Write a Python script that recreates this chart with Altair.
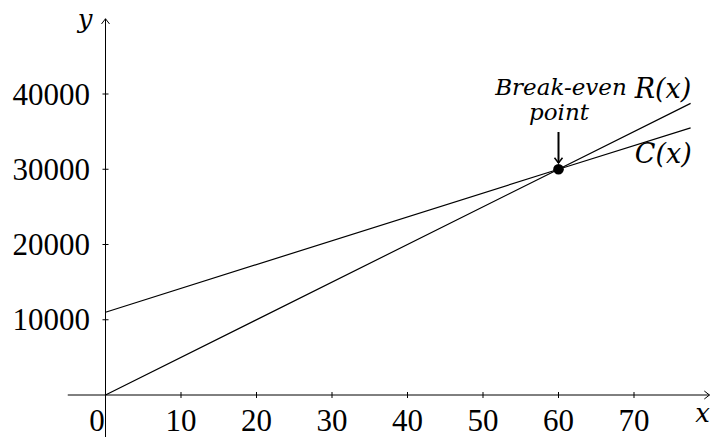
import altair as alt
import pandas as pd

# ---- data ----
x_ticks = [10, 20, 30, 40, 50, 60, 70]
y_ticks = [10000, 20000, 30000, 40000]
line_x = [0, 60, 77.5]
revenue = [0, 30000, 38750]      # R(x)
cost = [11000, 30000, 35500]     # C(x)
break_even_x = [60]
break_even_y = [30000]

X_DOMAIN = [-12.914, 80.199]
Y_DOMAIN = [-5581, 51429]
x_axis_span = [-5, 80]
y_axis_span = [-5581, 50000]

SERIF = "'Liberation Serif', 'Times New Roman', serif"
ITAL = "'DejaVu Serif', 'Liberation Serif', serif"


def X(field="x"):
    return alt.X(f"{field}:Q", scale=alt.Scale(domain=X_DOMAIN, nice=False, zero=False), axis=None)


def Y(field="y"):
    return alt.Y(f"{field}:Q", scale=alt.Scale(domain=Y_DOMAIN, nice=False, zero=False), axis=None)


lines_df = pd.DataFrame(
    {"x": line_x * 2, "y": revenue + cost, "series": ["R"] * len(line_x) + ["C"] * len(line_x)}
)
xt_df = pd.DataFrame({"x": x_ticks, "y": [0] * len(x_ticks), "t": [str(v) for v in x_ticks]})
yt_df = pd.DataFrame({"x": [0] * len(y_ticks), "y": y_ticks, "t": [str(v) for v in y_ticks]})
xax_df = pd.DataFrame({"x": [x_axis_span[0]], "x2": [x_axis_span[1]], "y": [0]})
yax_df = pd.DataFrame({"x": [0], "y": [y_axis_span[0]], "y2": [y_axis_span[1]]})
xarrow_df = pd.DataFrame({"x": [x_axis_span[1]], "y": [0]})
yarrow_df = pd.DataFrame({"x": [0], "y": [y_axis_span[1]]})
be_df = pd.DataFrame({"x": break_even_x, "y": break_even_y})
shaft_df = pd.DataFrame({"x": [60], "y": [34950], "y2": [30830]})
head_df = pd.DataFrame({"x": [60], "y": [30830]})
zero_df = pd.DataFrame({"x": [0], "y": [0], "t": ["0"]})
ann_df = pd.DataFrame({"x": [70.1, 70.1], "y": [39500, 30800], "t": ["R(x)", "C(x)"]})

x_axis = alt.Chart(xax_df).mark_rule(color="black", strokeWidth=1).encode(x=X(), x2="x2:Q", y=Y())
y_axis = alt.Chart(yax_df).mark_rule(color="black", strokeWidth=1).encode(x=X(), y=Y(), y2="y2:Q")
x_arrow = alt.Chart(xarrow_df).mark_point(
    shape="M -1.3 -1 L 0 0 L -1.3 1", size=64, filled=False, color="black", strokeWidth=1, opacity=1
).encode(x=X(), y=Y())
y_arrow = alt.Chart(yarrow_df).mark_point(
    shape="M -1 1.3 L 0 0 L 1 1.3", size=64, filled=False, color="black", strokeWidth=1, opacity=1
).encode(x=X(), y=Y())

x_tickmarks = alt.Chart(xt_df).mark_tick(orient="vertical", size=6, thickness=1, color="black", opacity=1).encode(x=X(), y=Y())
y_tickmarks = alt.Chart(yt_df).mark_tick(orient="horizontal", size=6, thickness=1, color="black", opacity=1).encode(x=X(), y=Y())

x_labels = alt.Chart(xt_df).mark_text(
    font=SERIF, fontSize=31, baseline="alphabetic", align="center", dy=36, color="black"
).encode(x=X(), y=Y(), text="t:N")
y_labels = alt.Chart(yt_df).mark_text(
    font=SERIF, fontSize=31, baseline="alphabetic", align="right", dx=-15.5, dy=10.5, color="black"
).encode(x=X(), y=Y(), text="t:N")
zero_label = alt.Chart(zero_df).mark_text(
    font=SERIF, fontSize=31, baseline="alphabetic", align="center", dx=-8.5, dy=36, color="black"
).encode(x=X(), y=Y(), text="t:N")

x_title = alt.Chart(xarrow_df).mark_text(
    text="x", font=ITAL, fontStyle="italic", fontSize=26, baseline="alphabetic", align="center",
    dx=-7, dy=27, color="black"
).encode(x=X(), y=Y())
y_title = alt.Chart(yarrow_df).mark_text(
    text="y", font=ITAL, fontStyle="italic", fontSize=26, baseline="alphabetic", align="center",
    dx=-20.5, dy=9, color="black"
).encode(x=X(), y=Y())

lines = alt.Chart(lines_df).mark_line(color="black", strokeWidth=1.2).encode(
    x=X(), y=Y(), detail="series:N", order="x:Q"
)
dot = alt.Chart(be_df).mark_circle(size=113, color="black", opacity=1).encode(x=X(), y=Y())

shaft = alt.Chart(shaft_df).mark_rule(color="black", strokeWidth=2).encode(x=X(), y=Y(), y2="y2:Q")
head = alt.Chart(head_df).mark_point(
    shape="M -1 -1.3 L 0 0 L 1 -1.3", size=64, filled=False, color="black", strokeWidth=1.5, opacity=1
).encode(x=X(), y=Y())

be_text1 = alt.Chart(be_df).mark_text(
    text="Break-even", font=ITAL, fontStyle="italic", fontSize=23, baseline="alphabetic", align="center",
    dx=2.5, dy=-74, color="black"
).encode(x=X(), y=Y())
be_text2 = alt.Chart(be_df).mark_text(
    text="point", font=ITAL, fontStyle="italic", fontSize=23, baseline="alphabetic", align="center",
    dx=0.5, dy=-49, color="black"
).encode(x=X(), y=Y())
series_labels = alt.Chart(ann_df).mark_text(
    font=ITAL, fontStyle="italic", fontSize=27, baseline="alphabetic", align="left", color="black"
).encode(x=X(), y=Y(), text="t:N")

chart = alt.layer(
    x_axis, y_axis, x_arrow, y_arrow, x_tickmarks, y_tickmarks,
    x_labels, y_labels, zero_label, x_title, y_title,
    lines, dot, shaft, head, be_text1, be_text2, series_labels,
).properties(width=703, height=429, padding=0, autosize="none", background="white").configure_view(strokeWidth=0)

chart.save("out.html", embed_options={"renderer": "svg", "actions": False})
